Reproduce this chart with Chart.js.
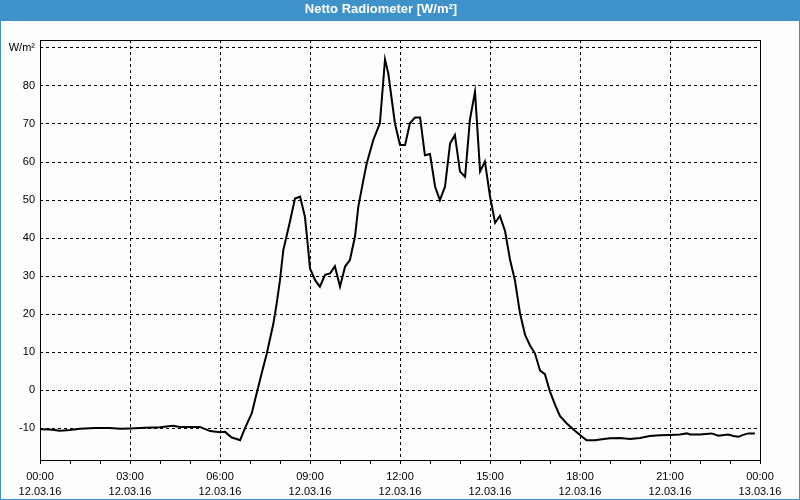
<!DOCTYPE html>
<html>
<head>
<meta charset="utf-8">
<script src="https://cdn.jsdelivr.net/npm/chart.js@4"></script>
<style>
  html, body { margin: 0; padding: 0; background: #fff; }
  canvas { display: block; }
</style>
</head>
<body>
<canvas id="myChart" width="800" height="500"></canvas>
<script>
// time of day in hours (12.03.16)
const hours = [
  0.00, 0.33, 0.67, 1.00, 1.33, 1.83, 2.33, 2.67, 3.00, 3.50,
  4.00, 4.43, 4.67, 5.00, 5.33, 5.67, 6.00, 6.17, 6.39, 6.53,
  6.67, 6.83, 7.06, 7.22, 7.39, 7.56, 7.78, 7.89, 8.00, 8.11,
  8.33, 8.50, 8.67, 8.83, 8.91, 9.00, 9.17, 9.33, 9.50, 9.67,
  9.83, 10.00, 10.17, 10.33, 10.50, 10.61, 10.78, 10.89, 11.11, 11.33,
  11.50, 11.61, 11.83, 12.00, 12.17, 12.33, 12.50, 12.67, 12.83, 13.00,
  13.17, 13.33, 13.50, 13.67, 13.83, 14.00, 14.17, 14.33, 14.50, 14.67,
  14.83, 15.00, 15.17, 15.33, 15.50, 15.67, 15.83, 16.00, 16.17, 16.33,
  16.50, 16.67, 16.83, 17.00, 17.17, 17.33, 17.56, 17.78, 18.00, 18.22,
  18.50, 18.67, 19.00, 19.33, 19.67, 20.00, 20.33, 20.67, 21.00, 21.33,
  21.56, 21.67, 22.00, 22.39, 22.61, 22.94, 23.11, 23.28, 23.44, 23.61,
  23.83
]

// net radiation in W/m²
const netRadiation = [
  -10.3, -10.4, -10.7, -10.5, -10.2, -10.0, -10.0, -10.2, -10.1, -9.9,
  -9.8, -9.4, -9.7, -9.7, -9.7, -10.8, -11.1, -11.0, -12.5, -12.8,
  -13.2, -10.1, -6.1, -0.9, 4.4, 9.6, 17.5, 22.8, 28.9, 36.8,
  44.3, 50.4, 50.9, 45.6, 39.5, 32.0, 28.9, 27.2, 30.3, 30.7,
  32.6, 27.2, 32.5, 34.2, 40.4, 48.2, 55.3, 59.6, 65.8, 70.2,
  87.0, 83.3, 70.2, 64.5, 64.5, 70.2, 71.7, 71.7, 61.8, 62.1,
  53.5, 50.0, 53.5, 64.9, 67.1, 57.5, 56.1, 71.1, 78.5, 57.5,
  60.1, 51.0, 44.0, 45.8, 41.9, 34.2, 28.9, 20.2, 14.5, 11.8,
  9.6, 5.1, 4.2, -0.4, -3.9, -6.8, -8.8, -10.4, -11.8, -13.2,
  -13.2, -13.0, -12.7, -12.6, -12.9, -12.6, -12.1, -11.9, -11.8, -11.7,
  -11.4, -11.7, -11.7, -11.4, -12.0, -11.7, -12.1, -12.3, -11.8, -11.4,
  -11.4
]

const xTickHours = [0, 1, 2, 3, 4, 5, 6, 7, 8, 9, 10, 11, 12, 13, 14, 15, 16, 17, 18, 19, 20, 21, 22, 23, 24]
const timeLabels = ['00:00', '03:00', '06:00', '09:00', '12:00', '15:00', '18:00', '21:00', '00:00']
const dateLabels = ['12.03.16', '12.03.16', '12.03.16', '12.03.16', '12.03.16', '12.03.16', '12.03.16', '12.03.16', '13.03.16']
const yTickValues = [-10, 0, 10, 20, 30, 40, 50, 60, 70, 80, 90]
const unitLabel = 'W/m²'

const blue = '#3d92c9'
const font = 'Liberation Sans, Arial, sans-serif'

const points = hours.map(function(h, i) {
  return { x: h, y: netRadiation[i] }
})

// window frame + title bar, and the box round the plot
const framePlugin = {
  id: 'frame',
  beforeDraw(chart) {
    const c = chart.ctx
    c.save()
    c.fillStyle = blue
    c.fillRect(0, 0, chart.width, chart.height)
    c.fillStyle = '#fbfefc'
    c.fillRect(1, 21, chart.width - 2, chart.height - 22)
    c.restore()
  },
  afterDraw(chart) {
    const a = chart.chartArea
    const c = chart.ctx
    c.save()
    c.strokeStyle = '#000'
    c.lineWidth = 1
    c.strokeRect(Math.round(a.left) + 0.5, Math.round(a.top) + 0.5,
                 Math.round(a.right - a.left), Math.round(a.bottom - a.top))
    c.restore()
  }
}

const ctx = document.getElementById('myChart').getContext('2d')
const myChart = new Chart(ctx, {
  type: 'line',
  data: {
    datasets: [{
      label: 'Netto Radiometer',
      data: points,
      borderColor: '#000',
      borderWidth: 2,
      pointRadius: 0,
      tension: 0,
      fill: false
    }]
  },
  options: {
    responsive: false,
    animation: false,
    devicePixelRatio: 1,
    layout: {
      padding: { left: 2, right: 40, top: 0, bottom: 2 }
    },
    plugins: {
      legend: { display: false },
      tooltip: { enabled: false },
      title: {
        display: true,
        text: 'Netto Radiometer [W/m²]',
        color: '#fff',
        font: { family: font, size: 13, weight: 'bold', lineHeight: 1.2 },
        padding: { top: 2, bottom: 22.4 }
      }
    },
    scales: {
      x: {
        type: 'linear',
        min: 0,
        max: 24,
        afterBuildTicks: function(scale) {
          scale.ticks = xTickHours.map(function(v) { return { value: v } })
        },
        afterFit: function(scale) { scale.height = 38 },
        ticks: {
          autoSkip: false,
          maxRotation: 0,
          padding: 5,
          color: '#000',
          font: { family: font, size: 11, lineHeight: 1.4 },
          callback: function(value) {
            if (value % 3 !== 0) return ''
            const i = value / 3
            return [timeLabels[i], dateLabels[i]]
          }
        },
        grid: {
          color: function(c) {
            return c.tick && c.tick.value % 3 === 0 ? '#000' : 'rgba(0,0,0,0)'
          },
          tickColor: '#000',
          tickLength: 4,
          lineWidth: 1
        },
        border: { display: false, dash: [3, 3] }
      },
      y: {
        min: -18.4,
        max: 92.1,
        afterBuildTicks: function(scale) {
          scale.ticks = yTickValues.map(function(v) { return { value: v } })
        },
        afterFit: function(scale) { scale.width = 38 },
        ticks: {
          padding: 5,
          color: '#000',
          font: { family: font, size: 11 },
          callback: function(value) {
            return value === 90 ? unitLabel : value
          }
        },
        grid: {
          color: '#000',
          lineWidth: 1,
          drawTicks: false
        },
        border: { display: false, dash: [3, 3] }
      }
    }
  },
  plugins: [framePlugin]
})
</script>
</body>
</html>
